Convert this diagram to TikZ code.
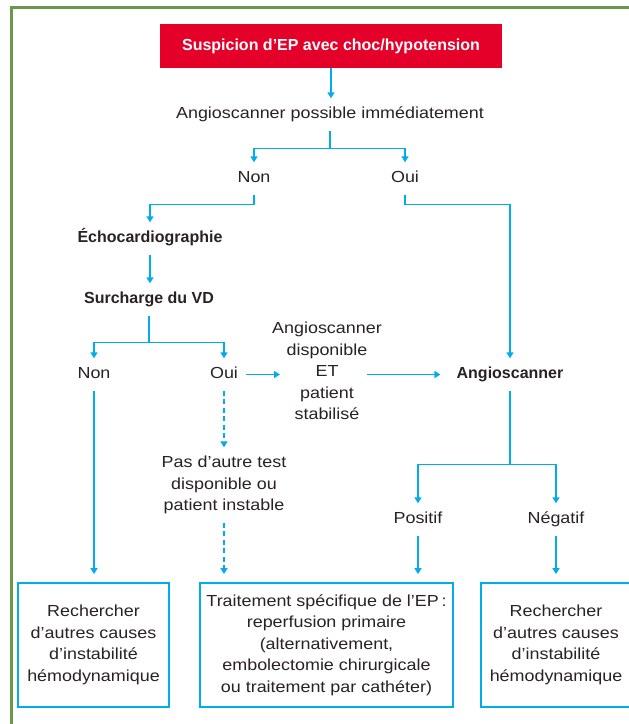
\documentclass[tikz,border=0pt]{standalone}
\usepackage{fontspec}
\setmainfont{Liberation Sans}[FakeStretch=1.12]
\newfontfamily\plainsans{Liberation Sans}
\usetikzlibrary{arrows.meta,calc}
\definecolor{cy}{RGB}{0,172,236}
\definecolor{rd}{RGB}{228,0,40}
\definecolor{gr}{RGB}{106,152,74}
\definecolor{tx}{RGB}{42,34,34}
\begin{document}
\begin{tikzpicture}[x=1pt,y=-1pt,
  mtxt/.style={font=\fontsize{16}{21.5}\selectfont, text=tx, align=center, inner xsep=2pt, inner ysep=8.5pt},
  txt/.style={mtxt, text height=11.5pt, text depth=3.5pt},
  btxt/.style={txt, font=\plainsans\bfseries\fontsize{16}{21.5}\selectfont},
  con/.style={draw=cy, line width=1.5pt},
  arr/.style={con, -{Triangle[width=7pt,length=6pt]}},
  dsh/.style={arr, dash pattern=on 5pt off 3.5pt},
  boxed/.style={mtxt, draw=cy, line width=1.8pt, inner sep=0pt, minimum height=124pt},
  tobox/.style={shorten >=8pt}]
\useasboundingbox (0,0) rectangle (629,724);
\fill[white] (0,0) rectangle (629,724);
% frame
\draw[gr, line width=3pt] (11,740) -- (11,7.5) -- (650,7.5);
% nodes
\node[fill=rd, minimum width=342pt, minimum height=44pt, text=white, font=\plainsans\bfseries\fontsize{16}{19}\selectfont, inner sep=0pt] (red) at (331,46) {Suspicion d’EP avec choc/hypotension};
\node[txt] (q1) at (330,114.5) {Angioscanner possible immédiatement};
\node[txt] (non1) at (254,178.5) {Non};
\node[txt] (oui1) at (405,178.5) {Oui};
\node[btxt] (echo) at (150,238.5) {Échocardiographie};
\node[btxt] (vd) at (149,299.5) {Surcharge du VD};
\node[txt] (non2) at (94,374.5) {Non};
\node[txt] (oui2) at (224,374.5) {Oui};
\node[mtxt] (mid) at (327,371) {Angioscanner\\disponible\\ET\\patient\\stabilisé};
\node[btxt] (angio) at (510,374.5) {Angioscanner};
\node[mtxt] (pas) at (224,485) {Pas d’autre test\\disponible ou\\patient instable};
\node[txt] (pos) at (418,519.5) {Positif};
\node[txt] (neg) at (556,519.5) {Négatif};
\node[boxed, minimum width=151pt] (box1) at (93.5,645) {Rechercher\\d’autres causes\\d’instabilité\\hémodynamique};
\node[boxed, minimum width=253pt] (box2) at (326.5,645) {Traitement spécifique de l’EP\,:\\reperfusion primaire\\(alternativement,\\embolectomie chirurgicale\\ou traitement par cathéter)};
\node[mtxt, inner sep=0pt] (box3) at (556,645) {Rechercher\\d’autres causes\\d’instabilité\\hémodynamique};
\draw[cy, line width=1.8pt] (481,583) rectangle (660,707);
% connectors
\coordinate (mL) at ($(mid.center)+(-47,0)$);
\coordinate (mR) at ($(mid.center)+(40,0)$);
\draw[arr] (red.south) -- (red.south |- q1.north);
\coordinate (j1) at ($(q1.south)+(0,18)$);
\draw[con] (q1.south) -- (j1);
\draw[arr] (j1) -| (non1.north);
\draw[arr] (j1) -| (oui1.north);
\draw[arr] (non1.south) -- ++(0,10) -| (echo.north);
\draw[arr] (oui1.south) -- ++(0,10) -| (angio.north);
\draw[arr] (echo.south) -- (echo.south |- vd.north);
\coordinate (j3) at ($(vd.south)+(0,27)$);
\draw[con] (vd.south) -- (j3);
\draw[arr] (j3) -| (non2.north);
\draw[arr] (j3) -| (oui2.north);
\draw[arr, shorten <=6pt] (oui2.east) -- (oui2.east -| mL);
\draw[arr, shorten >=14pt] (oui2.east -| mR) -- (angio.west);
\draw[arr, tobox] (non2.south) -- (non2.south |- box1.north);
\draw[dsh] (oui2.south) -- (pas.north);
\draw[dsh, tobox] (pas.south) -- (pas.south |- box2.north);
\coordinate (j4) at ($(angio.south)+(0,74)$);
\draw[con] (angio.south) -- (j4);
\draw[arr] (j4) -| (pos.north);
\draw[arr] (j4) -| (neg.north);
\draw[arr, tobox] (pos.south) -- (pos.south |- box2.north);
\draw[arr, tobox] (neg.south) -- (neg.south |- box2.north);
\end{tikzpicture}
\end{document}
